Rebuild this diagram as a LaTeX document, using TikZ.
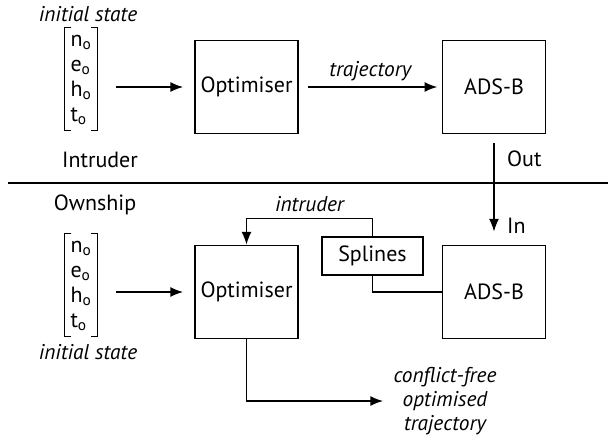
\documentclass[tikz,border=0pt]{standalone}
\usepackage{fontspec}
\setmainfont{PT Sans}
\usetikzlibrary{positioning}
\usetikzlibrary{arrows.meta}

% square brackets round a state vector node
\newcommand{\vecbrackets}[1]{%
    \draw (#1.north west) ++(7,0) -- (#1.north west) -- (#1.south west) -- ++(7,0);
    \draw (#1.north east) ++(-7,0) -- (#1.north east) -- (#1.south east) -- ++(-7,0);}

\begin{document}
\begin{tikzpicture}[
            x = 0.75pt, y = -0.75pt, % pixel grid
            > = {Latex[length=9.5pt, width=7.5pt]}, % arrow head style
            line width = 1.1pt, % line style
            font = \fontsize{16.5}{18.75}\selectfont
            ]

        \tikzstyle{block}=[
            draw,
            minimum width = 77pt,
            minimum height = 70pt,
            inner sep = 0pt
        ]
        \tikzstyle{statevec}=[
            minimum width = 24pt,
            minimum height = 76.5pt,
            inner sep = 0pt
        ]
        \tikzstyle{lbl}=[font = \fontsize{16}{17.8}\selectfont\itshape]

        \useasboundingbox (0,0) rectangle (610,444);

	% intruder level
        \node[statevec] (V1) at (81,79) {\begin{tabular}{@{}l@{}}n\textsubscript{o}\\e\textsubscript{o}\\h\textsubscript{o}\\t\textsubscript{o}\end{tabular}};
        \vecbrackets{V1}
        \node[lbl] (IS1) at (88,14) {initial state};
        \node (INT) at (100,160) {Intruder};

        \node[block] (O1) at (246.5,87) {Optimiser};
        \node[block] (A1) at (494,87) {ADS-B};

        \draw[->, shorten <= 13.5pt, shorten >= 8.5pt] (V1.east |- O1.west) -- (O1.west);
        \path[->] (O1) edge [shorten <= 7pt, shorten >= 3.5pt] node [lbl, above = 1pt] {trajectory} (A1);

	% divider
        \coordinate (DL) at (8,183);
        \coordinate (DR) at (608,183);
        \draw (DL) -- (DR);

	% ownship level
        \node (OWN) at (95,205) {Ownship};
        \node[statevec] (V2) at (81,285) {\begin{tabular}{@{}l@{}}n\textsubscript{o}\\e\textsubscript{o}\\h\textsubscript{o}\\t\textsubscript{o}\end{tabular}};
        \vecbrackets{V2}
        \node[lbl] (IS2) at (88,352) {initial state};

        \node[block] (O2) at (246.5,292) {Optimiser};
        \node[block] (A2) at (494,292) {ADS-B};
        \node[draw, minimum width = 76pt, minimum height = 28.5pt, inner sep = 0pt] (S) at (372.5,256) {Splines};

        \draw[->, shorten <= 13.5pt, shorten >= 8.5pt] (V2.east |- O2.west) -- (O2.west);

	% link intruder to ownship
        \draw[->, shorten <= 6.75pt, shorten >= 9.75pt] (A1) -- node [pos=0.22, right = 6pt] {Out} node [pos=0.83, right = 6pt] {In} (A2);
        \draw (S.south) |- (A2.west);
        \draw[->] (S.north) -- ++(0,-18) -| node [lbl, pos=0.25, above = 1pt] {intruder} (O2.north);

	% output
        \node[lbl, align=center] (T) at (445,401) {conflict-free\\optimised\\trajectory};
        \draw[->, shorten >= 4pt] (O2.south) |- (T.west);

  \end{tikzpicture}
\end{document}
